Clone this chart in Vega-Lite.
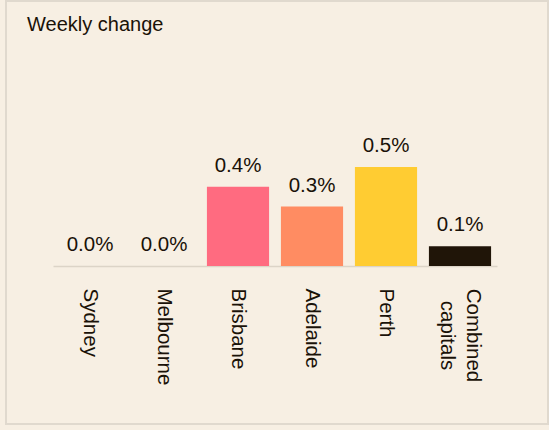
{
  "$schema": "https://vega.github.io/schema/vega-lite/v6.json",
  "description": "Weekly change in home values by capital city.",
  "width": 542,
  "height": 423,
  "autosize": {"type": "none"},
  "padding": {"left": 6, "top": 1, "right": 1, "bottom": 6},
  "background": "#f7efe3",
  "title": {
    "text": "Weekly change",
    "anchor": "start",
    "frame": "group",
    "orient": "top",
    "baseline": "top",
    "offset": -34,
    "dx": 21,
    "fontSize": 20,
    "fontWeight": "normal",
    "font": "Liberation Sans",
    "color": "#1a1208"
  },
  "data": {
    "values": [
      {"city": "Sydney", "change": 0.0},
      {"city": "Melbourne", "change": 0.0},
      {"city": "Brisbane", "change": 0.004},
      {"city": "Adelaide", "change": 0.003},
      {"city": "Perth", "change": 0.005},
      {"city": "Combined capitals", "change": 0.001}
    ]
  },
  "encoding": {
    "x": {
      "field": "city",
      "type": "nominal",
      "sort": null,
      "scale": {"range": [47, 491], "paddingInner": 0.16, "paddingOuter": 0.08},
      "axis": {
        "title": null,
        "orient": "bottom",
        "offset": -158,
        "ticks": false,
        "domainColor": "#dcd4c7",
        "domainWidth": 1.5,
        "labelAngle": 90,
        "labelAlign": {
          "condition": {"test": "datum.value == 'Combined capitals'", "value": "center"},
          "value": "left"
        },
        "labelPadding": {
          "condition": {"test": "datum.value == 'Combined capitals'", "value": 69},
          "value": 22
        },
        "labelOffset": {
          "condition": {"test": "datum.value == 'Combined capitals'", "value": 13},
          "value": 0
        },
        "labelBaseline": "middle",
        "labelExpr": "datum.value == 'Combined capitals' ? ['Combined', 'capitals'] : datum.label",
        "labelLineHeight": 26,
        "labelFont": "Liberation Sans",
        "labelFontSize": 20.5,
        "labelColor": "#1a1208",
        "labelOverlap": false,
        "labelLimit": 0
      }
    },
    "y": {
      "field": "change",
      "type": "quantitative",
      "scale": {"domain": [0, 0.01], "range": [265, 67]},
      "axis": null
    }
  },
  "layer": [
    {
      "mark": {"type": "bar"},
      "encoding": {
        "color": {
          "field": "city",
          "type": "nominal",
          "scale": {
            "domain": ["Sydney", "Melbourne", "Brisbane", "Adelaide", "Perth", "Combined capitals"],
            "range": ["#ff6b80", "#ff6b80", "#ff6b80", "#ff8c62", "#ffcc32", "#201508"]
          },
          "legend": null
        }
      }
    },
    {
      "mark": {
        "type": "text",
        "baseline": "alphabetic",
        "dy": -15,
        "font": "Liberation Sans",
        "fontSize": 20.5,
        "color": "#1a1208"
      },
      "encoding": {
        "text": {"field": "change", "type": "quantitative", "format": ".1%"}
      }
    }
  ],
  "config": {"view": {"stroke": "#e0d9ce", "strokeWidth": 2}}
}
